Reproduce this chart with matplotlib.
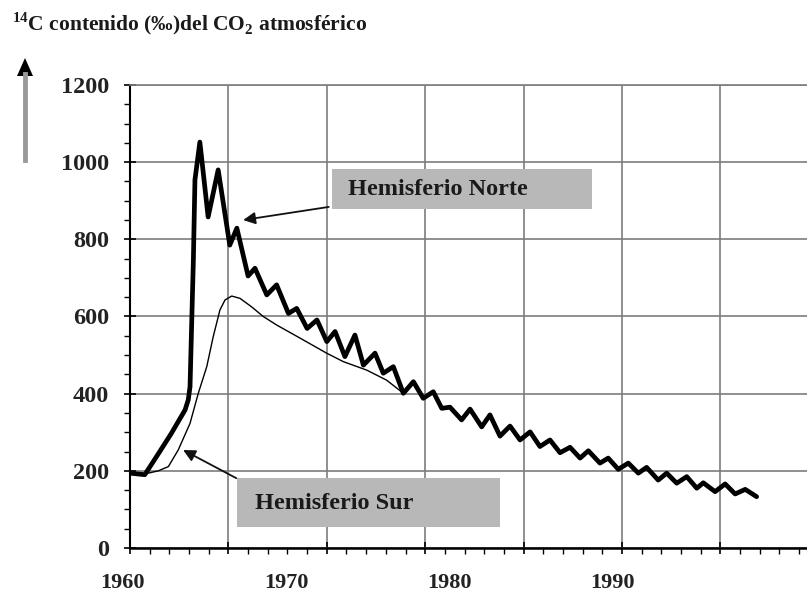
import matplotlib
matplotlib.use('Agg')
import matplotlib.pyplot as plt
from matplotlib.patches import Rectangle, Polygon
from matplotlib.ticker import MultipleLocator

plt.rcParams['font.family'] = ['Liberation Serif', 'DejaVu Serif']
plt.rcParams['font.weight'] = 'bold'
plt.rcParams['mathtext.fontset'] = 'custom'
plt.rcParams['mathtext.rm'] = 'Liberation Serif:bold'
plt.rcParams['mathtext.bf'] = 'Liberation Serif:bold'

# Hemisferio Norte (year, 14C per mil)
nh_year = [1960.0, 1960.75, 1961.45, 1962.1, 1962.8, 1962.96, 1963.05, 1963.13, 1963.22,
           1963.3, 1963.55, 1963.97, 1964.48, 1965.07, 1965.43, 1966.0, 1966.35, 1966.95,
           1967.45, 1968.05, 1968.47, 1969.0, 1969.5, 1970.0, 1970.42, 1970.92, 1971.43,
           1971.86, 1972.45, 1972.87, 1973.38, 1973.89, 1974.4, 1974.9, 1975.41, 1975.84,
           1976.26, 1976.85, 1977.28, 1977.87, 1978.29, 1978.8, 1979.31, 1979.82, 1980.33,
           1980.83, 1981.34, 1981.85, 1982.36, 1982.87, 1983.29, 1983.88, 1984.3, 1984.81,
           1985.32, 1985.83, 1986.25, 1986.84, 1987.27, 1987.78, 1988.29, 1988.8, 1989.13,
           1989.73, 1990.24, 1990.75, 1991.26, 1991.84]
nh_val = [194, 190, 245, 297, 358, 384, 418, 574, 746,
          954, 1052, 858, 980, 785, 829, 705, 725, 656,
          682, 608, 621, 569, 591, 535, 561, 496, 552,
          474, 505, 453, 470, 401, 431, 388, 405, 362,
          365, 332, 360, 314, 345, 290, 316, 280, 301,
          263, 280, 247, 261, 233, 252, 220, 233, 204,
          220, 194, 209, 176, 194, 168, 185, 155, 169,
          146, 166, 140, 152, 133]

# Hemisferio Sur
sh_year = [1960.0, 1960.76, 1961.44, 1961.95, 1962.45, 1963.05, 1963.47, 1963.9, 1964.23,
           1964.57, 1964.83, 1965.17, 1965.59, 1966.18, 1966.77, 1967.45, 1968.64, 1969.99,
           1970.84, 1972.03, 1973.04, 1973.89]
sh_val = [194, 192, 200, 211, 254, 323, 401, 470, 548,
          617, 643, 653, 647, 625, 600, 578, 544, 505,
          483, 461, 435, 401]

label_years = [1960, 1970, 1980, 1990]

fig = plt.figure(figsize=(8.07, 5.92), dpi=100)
ax = fig.add_axes([130 / 807, 44 / 592, 677 / 807, 463 / 592])

ax.plot(nh_year, nh_val, color='black', lw=3.4, solid_joinstyle='round', solid_capstyle='round')
ax.plot(sh_year, sh_val, color='black', lw=1.0)

ax.set_xlim(1960, 1994.4)
ax.set_ylim(0, 1200)
ax.xaxis.set_major_locator(MultipleLocator(5))
ax.xaxis.set_minor_locator(MultipleLocator(1))
ax.yaxis.set_major_locator(MultipleLocator(200))
ax.yaxis.set_minor_locator(MultipleLocator(50))
ax.grid(True, which='major', color='#7d7d7d', lw=1.2)
ax.set_axisbelow(True)
ax.tick_params(axis='x', which='major', direction='inout', length=9, width=1.2, labelbottom=False)
ax.tick_params(axis='x', which='minor', direction='out', length=4, width=1.0)
ax.tick_params(axis='y', which='major', direction='inout', length=8, width=1.2,
               labelsize=17.5, pad=11, labelcolor='#222222')
ax.tick_params(axis='y', which='minor', direction='out', length=4, width=1.0)
for lab in ax.get_yticklabels():
    lab.set_fontweight('bold')
ax.spines['right'].set_visible(False)
ax.spines['top'].set_color('#7d7d7d')
ax.spines['top'].set_linewidth(1.2)
ax.spines['bottom'].set_linewidth(1.8)
ax.spines['left'].set_linewidth(1.5)


# the printed year labels sit on their own scale, offset from the grid
def lbl_pos(v):
    return 1960 + ((v - 1960) * 16.33 - 7) / 19.68


for yr in label_years:
    ax.text(lbl_pos(yr), -0.075, str(yr), transform=ax.get_xaxis_transform(),
            ha='center', va='center', fontsize=16, fontweight='bold',
            color='#222222', clip_on=False)

# annotation boxes
ax.add_patch(Rectangle((0.298, 0.732), 0.384, 0.087, transform=ax.transAxes,
                       fc='#b8b8b8', ec='none', zorder=3))
ax.text(0.322, 0.775, 'Hemisferio Norte', transform=ax.transAxes, fontsize=17.5,
        fontweight='bold', va='center', color='#1a1a1a', zorder=4)
ax.add_patch(Rectangle((0.158, 0.045), 0.389, 0.106, transform=ax.transAxes,
                       fc='#b8b8b8', ec='none', zorder=3))
ax.text(0.185, 0.097, 'Hemisferio Sur', transform=ax.transAxes, fontsize=17.5,
        fontweight='bold', va='center', color='#1a1a1a', zorder=4)

arrow = dict(arrowstyle='-|>', color='#111111', lw=1.3, mutation_scale=18, shrinkA=0, shrinkB=0)
ax.annotate('', xy=(1965.75, 850), xytext=(1970.1, 884), arrowprops=arrow)
ax.annotate('', xy=(1962.7, 254), xytext=(1965.4, 181), arrowprops=arrow)

# title and y-axis arrow
fig.text(12 / 807, 1 - 30 / 592, r'$^{14}$C contenido (‰)del CO$_2$ atmosférico',
         fontsize=15.5, fontweight='bold', va='baseline', color='#1a1a1a')
fig.add_artist(plt.Line2D([25 / 807, 25 / 807], [1 - 160 / 592, 1 - 74 / 592],
                          color='#9a9a9a', lw=3.5, transform=fig.transFigure))
fig.add_artist(Polygon([[17 / 807, 1 - 76 / 592], [33 / 807, 1 - 76 / 592], [25 / 807, 1 - 58 / 592]],
                       closed=True, fc='black', ec='none', transform=fig.transFigure))

fig.savefig('out.png', dpi=100)
